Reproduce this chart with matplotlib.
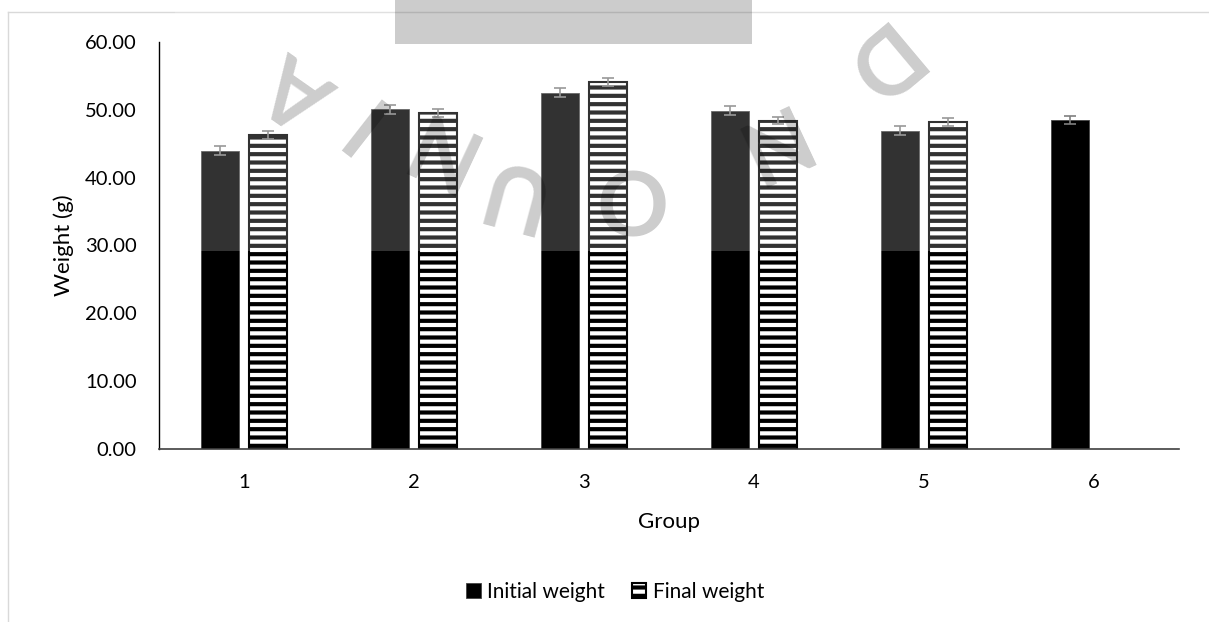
import numpy as np
import matplotlib.pyplot as plt
from matplotlib.patches import Rectangle
from matplotlib.lines import Line2D

plt.rcParams['font.family'] = ['Lato', 'DejaVu Sans']
plt.rcParams['hatch.linewidth'] = 3.0

# data
groups = ['1', '2', '3', '4', '5', '6']
initial_weight = [44.0, 50.1, 52.5, 49.9, 46.9, 48.5]
final_weight = [46.3, 49.5, 54.1, 48.4, 48.2, np.nan]
initial_err = [0.6, 0.65, 0.65, 0.65, 0.65, 0.65]
final_err = [0.55, 0.6, 0.6, 0.55, 0.6, 0.0]

W, H = 1209, 622
fig = plt.figure(figsize=(W / 100, H / 100), dpi=100)
ax = fig.add_axes([159 / W, 1 - 449 / H, 1020 / W, 407 / H])

x = np.arange(len(groups))
bw = 0.224
off = 0.142
err_kw = dict(ecolor='#7f7f7f', elinewidth=1.2, capsize=4.3, capthick=1.2)

b1 = ax.bar(x - off, initial_weight, bw, color='black', edgecolor='#444444',
            linewidth=0.6, yerr=initial_err, error_kw=err_kw, label='Initial weight')
b2 = ax.bar(x + off, final_weight, bw, color='white', edgecolor='black',
            linewidth=1.5, hatch='--', yerr=final_err, error_kw=err_kw,
            label='Final weight')

ax.set_xlim(-0.5, 5.5)
ax.set_ylim(0, 60)
ax.set_yticks(np.arange(0, 61, 10))
ax.set_yticklabels(['%.2f' % v for v in np.arange(0, 61, 10)])
ax.set_xticks(x)
ax.set_xticklabels(groups)
ax.tick_params(axis='both', length=0, labelsize=14.5, colors='black')
ax.tick_params(axis='y', pad=16)
ax.tick_params(axis='x', pad=18)
for s in ['top', 'right']:
    ax.spines[s].set_visible(False)
ax.spines['left'].set_color('black')
ax.spines['left'].set_linewidth(1.0)
ax.spines['bottom'].set_color('#404040')
ax.spines['bottom'].set_linewidth(1.2)

ax.set_xlabel('Group', fontsize=16, labelpad=15)
ax.set_ylabel('Weight (g)', fontsize=16, labelpad=8)

fig.legend(handles=[b1, b2], loc='center', bbox_to_anchor=(615 / W, 1 - 592 / H),
           ncol=2, frameon=False, fontsize=15, handlelength=0.7, handleheight=0.7,
           handletextpad=0.3, columnspacing=1.3)

# chart area border
fig.add_artist(Line2D([8 / W, 1], [1 - 12 / H, 1 - 12 / H], transform=fig.transFigure,
                      color='#d9d9d9', lw=1))
fig.add_artist(Line2D([8 / W, 8 / W], [0, 1 - 12 / H], transform=fig.transFigure,
                      color='#d9d9d9', lw=1))

# watermark
fig.add_artist(Rectangle((175 / W, 1 - 251 / H), 825 / W, 251 / H, transform=fig.transFigure,
                         facecolor='white', alpha=0.2, edgecolor='none', zorder=5))
fig.add_artist(Rectangle((395 / W, 1 - 44 / H), 357 / W, 44 / H, transform=fig.transFigure,
                         facecolor='black', alpha=0.2, edgecolor='none', zorder=6))
wm_chars = ['A', 'I', 'N', 'U', 'O', 'N', 'D']
wm_x = [300, 358, 435, 507, 627, 762, 872]
wm_y = [90, 117, 145, 190, 195, 142, 62]
wm_rot = [145, 142, 155, 165, 180, 205, 220]
for c, px, py, r in zip(wm_chars, wm_x, wm_y, wm_rot):
    fig.text(px / W, 1 - py / H, c, fontsize=64, fontweight='bold', color='black',
             alpha=0.2, rotation=r, rotation_mode='anchor', ha='center', va='center',
             zorder=7)

fig.savefig('out.png', dpi=100)
